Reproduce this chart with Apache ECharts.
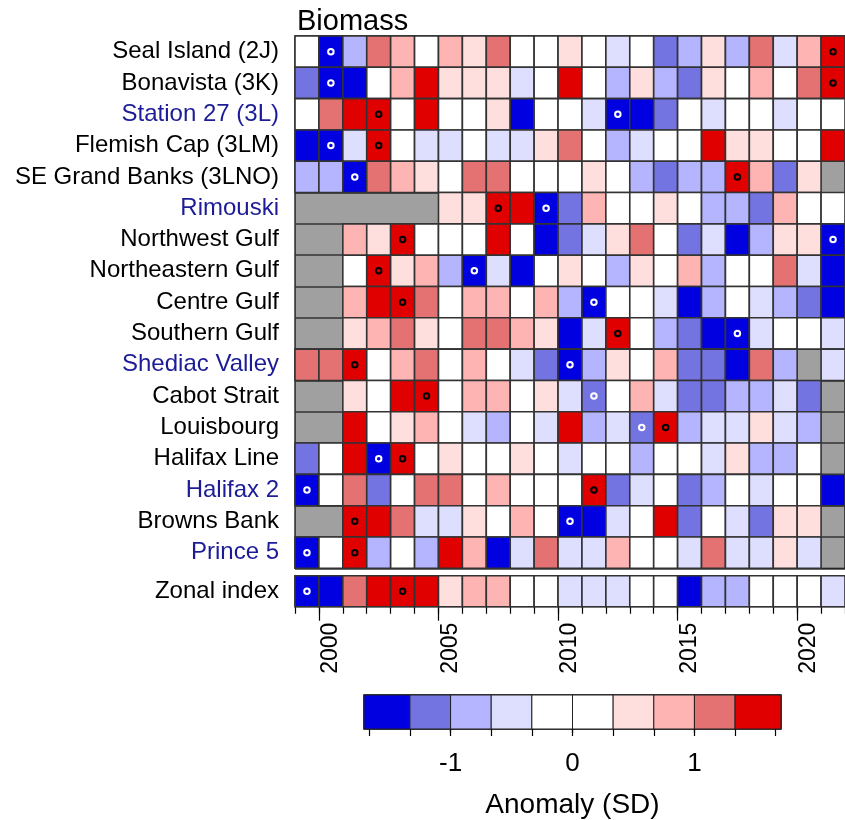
<!DOCTYPE html>
<html><head><meta charset="utf-8">
<script src="https://cdn.jsdelivr.net/npm/echarts@6/dist/echarts.min.js"></script>
<style>html,body{margin:0;padding:0;background:#fff}#c{width:845px;height:820px}</style>
</head><body><div id="c"></div>
<script>
// ---------- data ----------
const years = [1999,2000,2001,2002,2003,2004,2005,2006,2007,2008,2009,2010,2011,2012,2013,2014,2015,2016,2017,2018,2019,2020,2021];
const stations = ['Seal Island (2J)','Bonavista (3K)','Station 27 (3L)','Flemish Cap (3LM)','SE Grand Banks (3LNO)','Rimouski','Northwest Gulf','Northeastern Gulf','Centre Gulf','Southern Gulf','Shediac Valley','Cabot Strait','Louisbourg','Halifax Line','Halifax 2','Browns Bank','Prince 5'];
const fixedStations = ['Station 27 (3L)','Rimouski','Shediac Valley','Halifax 2','Prince 5'];

const sealIsland    = [0.1,-1.9,-0.8,1.2,0.8,-0.1,0.8,0.5,1.1,0.2,-0.2,0.4,0.0,-0.5,0.1,-1.2,-0.8,0.5,-0.9,1.2,-0.4,0.9,2.0];
const bonavista     = [-1.1,-2.1,-1.6,0.1,0.8,1.5,0.5,0.4,0.5,-0.4,0.0,1.5,0.2,-0.8,0.4,-0.9,-1.2,0.5,0.1,0.9,-0.1,1.2,1.9];
const station27     = [0.1,1.1,1.5,1.9,-0.2,1.4,0.0,0.2,0.4,-1.5,0.1,-0.1,-0.5,-1.8,-1.5,-1.1,0.2,-0.4,0.1,0.0,-0.5,0.3,-0.1];
const flemishCap    = [-1.5,-1.9,-0.5,2.0,0.1,-0.5,-0.4,0.0,-0.5,-0.4,0.4,1.1,0.1,-0.8,-0.5,0.2,-0.1,1.5,0.5,0.4,0.1,0.2,1.6];
const seGrandBanks  = [-0.8,-0.9,-1.8,1.2,0.8,0.5,0.1,1.1,1.2,0.0,-0.1,0.2,0.4,0.1,-0.8,-1.1,-0.9,-0.8,1.8,0.8,-1.2,0.5,null];
const rimouski      = [null,null,null,null,null,null,0.5,0.4,1.9,1.5,-1.9,-1.1,0.8,0.1,-0.1,0.5,0.0,-0.8,-0.9,-1.2,0.9,0.2,0.1];
const northwestGulf = [null,null,0.8,0.5,1.9,0.1,0.0,-0.1,1.5,0.2,-1.5,-1.2,-0.5,0.4,1.1,0.1,-1.1,-0.5,-1.5,-0.8,0.5,0.4,-1.9];
const northeastGulf = [null,null,0.1,1.9,0.5,0.8,-0.8,-1.9,-0.5,-1.5,0.0,0.4,0.2,-0.8,0.5,0.1,0.9,-0.9,0.0,-0.2,1.2,-0.5,-1.5];
const centreGulf    = [null,null,0.8,1.5,1.9,1.1,0.1,0.9,0.8,0.0,0.8,-0.8,-1.9,0.2,-0.1,-0.5,-1.5,-0.9,0.1,-0.5,-0.8,-1.2,-1.5];
const southernGulf  = [null,null,0.5,0.8,1.2,0.4,0.0,1.1,1.2,0.8,0.5,-1.5,-0.5,1.9,0.1,-0.8,-1.1,-1.6,-1.9,-0.5,0.2,-0.1,-0.4];
const shediacValley = [1.2,1.1,1.9,0.1,0.8,1.2,0.0,0.9,-0.1,-0.5,-1.2,-1.9,-0.8,0.5,0.1,0.8,-1.1,-1.2,-1.5,1.1,-0.9,null,-0.4];
const cabotStrait   = [null,null,0.5,0.1,1.5,1.9,0.0,0.8,0.9,-0.1,0.4,-0.5,-1.3,0.2,0.8,-0.5,-1.1,-1.2,-0.8,-0.9,-0.5,-1.1,null];
const louisbourg    = [null,null,1.5,0.1,0.5,0.8,0.0,-0.5,-0.8,0.1,-0.4,1.5,-0.8,-0.5,-1.3,1.9,-0.9,-0.5,-0.4,0.4,-0.5,-0.8,null];
const halifaxLine   = [-1.1,0.1,1.5,-1.9,1.9,0.0,0.4,0.1,-0.1,0.5,0.2,-0.5,0.0,0.1,-0.8,0.2,-0.1,-0.5,0.4,-0.8,-0.9,0.1,null];
const halifax2      = [-1.9,0.1,1.1,-1.2,0.0,1.2,1.1,0.1,0.8,-0.1,0.2,0.0,1.9,-1.1,-0.5,0.1,-1.2,-0.8,0.2,-0.5,0.0,0.1,-1.5];
const brownsBank    = [null,null,1.9,1.5,1.2,-0.5,-0.4,0.5,0.1,0.8,-0.1,-1.9,-1.5,-0.5,0.0,1.5,-1.1,0.2,-0.5,-1.2,0.5,0.4,null];
const prince5       = [-1.9,0.1,1.9,-0.8,0.0,-0.9,1.5,0.8,-1.5,-0.5,1.2,-0.4,-0.5,0.8,0.1,-0.1,-0.5,1.1,-0.4,-0.5,0.4,-0.5,null];
const zonalLabel    = ['Zonal index'];
const zonalIndex    = [-1.9,-1.5,1.2,1.5,1.8,1.5,0.5,0.8,0.9,0.1,-0.1,-0.4,-0.5,-0.4,0.0,0.2,-1.5,-0.8,-0.9,0.1,-0.1,0.2,-0.4];

const binBreaks = [-1.71,-4/3,-1,-2/3,-1/3,0,1/3,2/3,1,4/3,1.71];
const binColors = ['#0000e0','#7373e2','#b4b4ff','#dedeff','#ffffff','#ffffff','#ffdede','#ffb4b4','#e47272','#e00000'];
const yearTickLabels = [2000,2005,2010,2015,2020];
const colorbarTicks = [-5/3,-4/3,-1,-2/3,-1/3,0,1/3,2/3,1,4/3,5/3];
const colorbarTickLabels = [-1,0,1];

// ---------- build ----------
const rows = [sealIsland,bonavista,station27,flemishCap,seGrandBanks,rimouski,northwestGulf,northeastGulf,centreGulf,southernGulf,shediacValley,cabotStrait,louisbourg,halifaxLine,halifax2,brownsBank,prince5];

function colorFor(v){
  for (let i = 1; i < binBreaks.length - 1; i++) { if (v < binBreaks[i]) return binColors[i-1]; }
  return binColors[binColors.length-1];
}
function cellsOf(rowArrays){
  const out = [];
  rowArrays.forEach((arr, r) => arr.forEach((v, c) => { if (v !== null) out.push([years[c], r, v]); }));
  return out;
}
function dotsOf(rowArrays, wantMax){
  const out = [];
  rowArrays.forEach((arr, r) => {
    let best = null, bi = -1;
    arr.forEach((v, c) => { if (v === null) return; if (best === null || (wantMax ? v > best : v < best)) { best = v; bi = c; } });
    if (bi >= 0) out.push([years[bi] + 0.5, r]);
  });
  return out;
}
function renderCell(params, api){
  const yr = api.value(0), r = api.value(1), v = api.value(2);
  const p0 = api.coord([yr, r]); const p1 = api.coord([yr + 1, r]);
  const h = api.size([0, 1])[1];
  return {type:'rect', shape:{x:p0[0], y:p0[1]-h/2, width:p1[0]-p0[0], height:h},
          style:{fill: colorFor(v), stroke:'#333', lineWidth:1.6}};
}
function renderBin(params, api){
  const i = params.dataIndex;
  const a = api.coord([binBreaks[i], 0]); const b = api.coord([binBreaks[i+1], 1]);
  return {type:'rect', shape:{x:a[0], y:b[1], width:b[0]-a[0], height:a[1]-b[1]},
          style:{fill: binColors[i], stroke:'#222', lineWidth:1}};
}

const FONT = 'Liberation Sans';
const gridLeft = 295, gridW = 556.6;
const mainTop = 36, mainH = 532.3, zTop = 575.7, zH = 31;
const cbLeft = 364, cbW = 417, cbTop = 695, cbH = 34;
const hidden = {show:false};
const dotStyle = (c) => ({color:'rgba(0,0,0,0)', borderColor:c, borderWidth:2, opacity:1});

const option = {
  animation:false,
  backgroundColor:'#fff',
  title:{text:'Biomass', left:292, top:2, textStyle:{fontFamily:FONT, fontSize:29, fontWeight:'normal', color:'#000'}},
  grid:[
    {left:gridLeft, top:mainTop, width:gridW, height:mainH, show:true, backgroundColor:'#a0a0a0', borderColor:'#000', borderWidth:1.2},
    {left:gridLeft, top:zTop, width:gridW, height:zH, show:true, backgroundColor:'#a0a0a0', borderColor:'#000', borderWidth:1.2},
    {left:gridLeft, top:zTop, width:gridW, height:zH, show:false},
    {left:cbLeft, top:cbTop, width:cbW, height:cbH, show:true, borderColor:'#000', borderWidth:1.5},
    {left:cbLeft, top:cbTop, width:cbW, height:cbH, show:false}
  ],
  xAxis:[
    {type:'value', gridIndex:0, min:1999, max:2022, axisLine:hidden, axisTick:hidden, axisLabel:hidden, splitLine:hidden},
    {type:'value', gridIndex:1, min:1999, max:2022, position:'bottom', axisLine:hidden,
      axisTick:{show:true, length:7, customValues:years.concat([2022]), lineStyle:{color:'#000', width:1.2}},
      axisLabel:hidden, splitLine:hidden},
    {type:'value', gridIndex:2, min:1999, max:2022, position:'bottom', axisLine:hidden,
      axisTick:{show:true, length:14, customValues:yearTickLabels, lineStyle:{color:'#000', width:1.2}},
      axisLabel:{show:true, customValues:yearTickLabels.map(y => y + 0.5), rotate:90, margin:16, fontFamily:FONT, fontSize:23, color:'#000',
        formatter:v => String(Math.floor(v))},
      splitLine:hidden},
    {type:'value', gridIndex:3, min:-1.71, max:1.71, position:'bottom', axisLine:hidden,
      axisTick:{show:true, length:7, customValues:colorbarTicks, lineStyle:{color:'#000', width:1.2}},
      axisLabel:hidden, splitLine:hidden},
    {type:'value', gridIndex:4, min:-1.71, max:1.71, position:'bottom', axisLine:hidden,
      axisTick:{show:true, length:14, customValues:colorbarTickLabels, lineStyle:{color:'#000', width:1.2}},
      axisLabel:{show:true, customValues:colorbarTickLabels, margin:32, fontFamily:FONT, fontSize:26, color:'#000',
        formatter:v => String(Math.round(v))},
      splitLine:hidden,
      name:'Anomaly (SD)', nameLocation:'middle', nameGap:72, nameTextStyle:{fontFamily:FONT, fontSize:28, color:'#000'}}
  ],
  yAxis:[
    {type:'category', gridIndex:0, data:stations, inverse:true, axisLine:hidden, axisTick:hidden,
      axisLabel:{interval:0, margin:16, fontFamily:FONT, fontSize:24,
        color:(v) => fixedStations.indexOf(v) >= 0 ? '#1c1c96' : '#000'},
      splitLine:{show:true, interval:0, lineStyle:{color:'#333', width:1.6}}},
    {type:'category', gridIndex:1, data:zonalLabel, inverse:true, axisLine:hidden, axisTick:hidden,
      axisLabel:{interval:0, margin:16, fontFamily:FONT, fontSize:24, color:'#000'}, splitLine:hidden},
    {type:'value', gridIndex:2, show:false},
    {type:'value', gridIndex:3, min:0, max:1, show:false},
    {type:'value', gridIndex:4, min:0, max:1, show:false}
  ],
  series:[
    {type:'custom', xAxisIndex:0, yAxisIndex:0, data:cellsOf(rows), renderItem:renderCell, encode:{x:0, y:1}, z:2},
    {type:'custom', xAxisIndex:1, yAxisIndex:1, data:cellsOf([zonalIndex]), renderItem:renderCell, encode:{x:0, y:1}, z:2},
    {type:'scatter', xAxisIndex:0, yAxisIndex:0, data:dotsOf(rows, true), symbol:'circle', symbolSize:5.5, itemStyle:dotStyle('#000'), z:5, silent:true},
    {type:'scatter', xAxisIndex:0, yAxisIndex:0, data:dotsOf(rows, false), symbol:'circle', symbolSize:5.5, itemStyle:dotStyle('#fff'), z:5, silent:true},
    {type:'scatter', xAxisIndex:1, yAxisIndex:1, data:dotsOf([zonalIndex], true), symbol:'circle', symbolSize:5.5, itemStyle:dotStyle('#000'), z:5, silent:true},
    {type:'scatter', xAxisIndex:1, yAxisIndex:1, data:dotsOf([zonalIndex], false), symbol:'circle', symbolSize:5.5, itemStyle:dotStyle('#fff'), z:5, silent:true},
    {type:'custom', xAxisIndex:3, yAxisIndex:3, data:binColors.map((c, i) => [binBreaks[i], binBreaks[i+1]]), renderItem:renderBin, encode:{x:[0,1]}, z:2}
  ]
};
const chart = echarts.init(document.getElementById('c'), null, {renderer:'canvas'});
chart.setOption(option);
</script></body></html>
